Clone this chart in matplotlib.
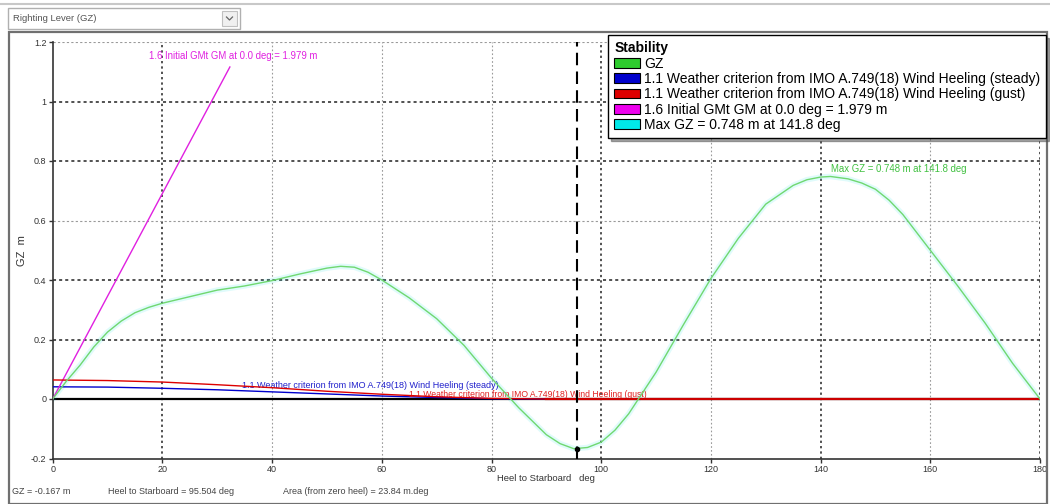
import matplotlib
matplotlib.use('Agg')
import matplotlib.pyplot as plt
from matplotlib.patches import Patch, Rectangle
from matplotlib.lines import Line2D

plt.rcParams['font.family'] = ['Liberation Sans', 'DejaVu Sans']

# ---------------- data ----------------
heel = [0, 2.5, 5, 7.5, 10, 12.5, 15, 17.5, 20, 25, 30, 35, 40, 45, 50, 52.5, 55,
        57.5, 60, 65, 70, 75, 80, 85, 90, 92.5, 95, 97.5, 100, 102.5, 105, 110, 115,
        120, 125, 130, 135, 137.5, 140, 141.8, 145, 147.5, 150, 152.5, 155, 160,
        165, 170, 175, 180]
gz = [0.0, 0.060, 0.114, 0.175, 0.225, 0.262, 0.290, 0.308, 0.322, 0.344, 0.366,
      0.380, 0.398, 0.420, 0.440, 0.446, 0.443, 0.426, 0.400, 0.340, 0.270, 0.180,
      0.070, -0.030, -0.120, -0.150, -0.167, -0.163, -0.145, -0.105, -0.050, 0.090,
      0.250, 0.405, 0.540, 0.655, 0.718, 0.737, 0.746, 0.748, 0.740, 0.726, 0.705,
      0.668, 0.620, 0.500, 0.380, 0.255, 0.120, 0.0]

gm_heel = [0, 32.3]
gm_gz = [0, 1.116]

lever_heel = [0, 10, 20, 30, 40, 50, 60, 70, 80, 90, 180]
steady_lever = [0.041, 0.040, 0.036, 0.031, 0.024, 0.017, 0.010, 0.005, 0.001, 0.0, 0.0]
gust_lever = [0.064, 0.062, 0.057, 0.048, 0.038, 0.026, 0.016, 0.0075, 0.002, 0.0, 0.0]

cursor_heel = 95.504
cursor_gz = -0.167
cursor_area = 23.84
max_heel = 141.8
max_gz = 0.748
gm_value = 1.979

x_ticks = [0, 20, 40, 60, 80, 100, 120, 140, 160, 180]
y_ticks = [-0.2, 0, 0.2, 0.4, 0.6, 0.8, 1.0, 1.2]
y_tick_labels = ['-0.2', '0', '0.2', '0.4', '0.6', '0.8', '1', '1.2']
x_dark = [20, 100, 140, 180]
y_dark = [0.2, 0.4, 0.8, 1.0]

steady_label = '1.1 Weather criterion from IMO A.749(18) Wind Heeling (steady)'
gust_label = '1.1 Weather criterion from IMO A.749(18) Wind Heeling (gust)'
gm_label = f'1.6 Initial GMt GM at 0.0 deg = {gm_value:.3f} m'
max_label = f'Max GZ = {max_gz:.3f} m at {max_heel:.1f} deg'
legend_labels = ['GZ', steady_label, gust_label, gm_label, max_label]
legend_colors = ['#2ecc2e', '#0000cc', '#dd0000', '#ee00ee', '#00e8e8']

# ---------------- figure ----------------
W, H = 1050, 504
fig = plt.figure(figsize=(W / 100, H / 100), dpi=100)
fig.patch.set_facecolor('white')

def fx(x):
    return x / W

def fy(y):
    return 1 - y / H

# header / frame
fig.add_artist(Line2D([0, 1], [fy(4), fy(4)], color='#c8c8c8', lw=1.5))
fig.add_artist(Rectangle((fx(8), fy(29)), fx(232), 21 / H, facecolor='white',
                         edgecolor='#b0b0b0', lw=1))
fig.add_artist(Rectangle((fx(222), fy(26)), fx(15), 15 / H, facecolor='#f0f0f0',
                         edgecolor='#c0c0c0', lw=0.8))
fig.add_artist(Line2D([fx(226.5), fx(229.5), fx(232.5)], [fy(17), fy(20), fy(17)],
                      color='#666666', lw=0.9))
fig.text(fx(13), fy(18.5), 'Righting Lever (GZ)', fontsize=6.8, color='#555555',
         va='center', ha='left')
fig.add_artist(Rectangle((fx(9), 0), fx(1038), 1 - 32 / H, facecolor='none',
                         edgecolor='#707070', lw=1.6))

ax = fig.add_axes([fx(52.7), 1 - 458.5 / H, (1040 - 52.7) / W, (458.5 - 42) / H])
ax.set_xlim(0, 180)
ax.set_ylim(-0.2, 1.2)

# grid
for xv in x_ticks[1:]:
    dark = xv in x_dark
    ax.axvline(xv, color='#222222' if dark else '#9a9a9a', lw=1.1 if dark else 0.8,
               ls=(0, (1.5, 2)), zorder=0.5)
for yv in y_ticks[2:]:
    dark = yv in y_dark
    ax.axhline(yv, color='#222222' if dark else '#9a9a9a', lw=1.1 if dark else 0.8,
               ls=(0, (2, 2)), zorder=0.5)

ax.axhline(0, color='black', lw=1.6, zorder=2)

# heeling levers
ax.plot(lever_heel, steady_lever, color='#0000cc', lw=1.0, zorder=3)
ax.plot(lever_heel, gust_lever, color='#dd0000', lw=1.0, zorder=3.1)
ax.plot(lever_heel[-2:], gust_lever[-2:], color='#cc0000', lw=1.6, zorder=3.2)

# GM line
ax.plot(gm_heel, gm_gz, color='#e020e0', lw=1.0, zorder=3)

# GZ curve
ax.plot(heel, gz, color='#00e0e0', lw=4, alpha=0.12, zorder=2.5)
ax.plot(heel, gz, color='#70d870', lw=1.0, zorder=4)

# cursor
ax.axvline(cursor_heel, color='black', lw=1.5, dashes=(6, 3), zorder=5)
ax.plot([cursor_heel], [cursor_gz], 'o', color='black', markersize=3, zorder=6)

# annotations
ax.text(17.5, 1.153, gm_label, fontsize=6.9, color='#e020e0', va='center', ha='left')
ax.text(34.6, 0.046, steady_label, fontsize=6.5, color='#2020cc', va='center', ha='left')
ax.text(65.0, 0.015, gust_label, fontsize=6.2, color='#e02020', va='center', ha='left')
ax.text(141.9, 0.772, max_label, fontsize=6.9, color='#40c040', va='center', ha='left')

# axes styling
for s in ['top', 'right']:
    ax.spines[s].set_visible(False)
for s in ['left', 'bottom']:
    ax.spines[s].set_color('#333333')
    ax.spines[s].set_linewidth(1.2)
ax.set_xticks(x_ticks)
ax.set_xticklabels([str(v) for v in x_ticks])
ax.set_yticks(y_ticks)
ax.set_yticklabels(y_tick_labels)
ax.tick_params(axis='both', labelsize=6.5, labelcolor='#333333', length=3,
               width=1, color='#333333', pad=1.5)
ax.set_xlabel('Heel to Starboard   deg', fontsize=6.8, color='#333333', labelpad=0)
ax.set_ylabel('GZ  m', fontsize=8, color='#333333', labelpad=3)

# legend
handles = [Patch(facecolor=c, edgecolor='black', lw=0.8) for c in legend_colors]
leg = fig.legend(handles, legend_labels, loc='upper left',
                 bbox_to_anchor=(fx(608), fy(35)), title='Stability',
                 title_fontproperties={'weight': 'bold', 'size': 10},
                 fontsize=10, frameon=True, fancybox=False, shadow=True,
                 alignment='left', borderpad=0.45, labelspacing=0.1,
                 handlelength=1.85, handleheight=0.7, handletextpad=0.3,
                 borderaxespad=0)
leg.get_frame().set_edgecolor('black')
leg.get_frame().set_linewidth(1.0)
leg.set_zorder(10)

# status bar
fig.text(fx(12), fy(491), f'GZ = {cursor_gz:.3f} m', fontsize=6.5, color='#444444',
         va='center')
fig.text(fx(108), fy(491), f'Heel to Starboard = {cursor_heel:.3f} deg', fontsize=6.5,
         color='#444444', va='center')
fig.text(fx(283), fy(491), f'Area (from zero heel) = {cursor_area:.2f} m.deg',
         fontsize=6.5, color='#444444', va='center')

fig.savefig('out.png', dpi=100)
